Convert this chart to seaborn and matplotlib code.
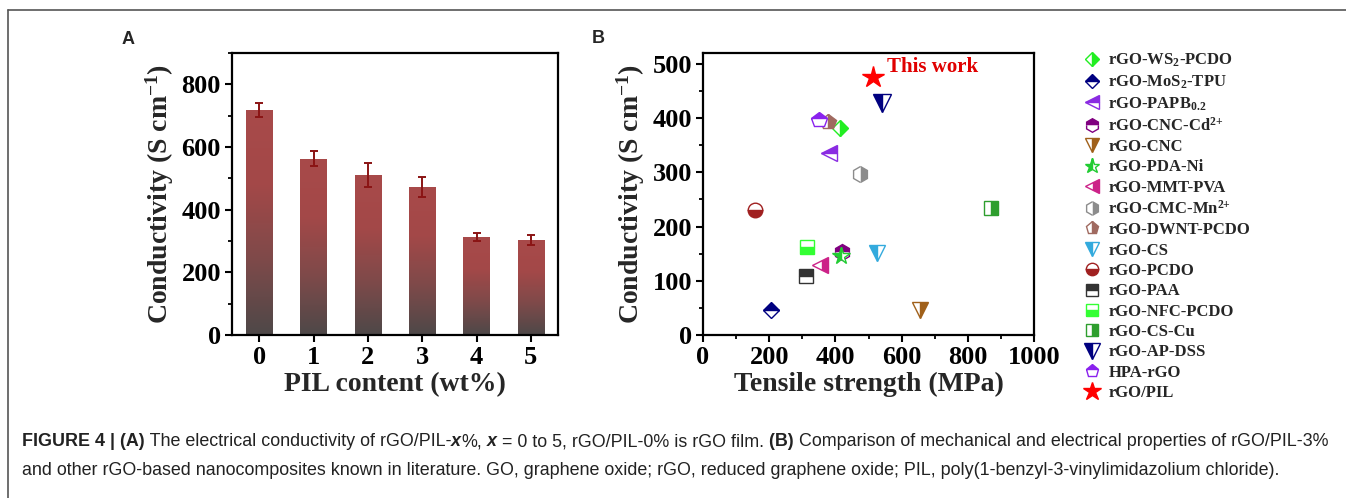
import numpy as np
import pandas as pd
import matplotlib
matplotlib.use("Agg")
import matplotlib.pyplot as plt
import seaborn as sns
from matplotlib.ticker import MultipleLocator
from matplotlib.colors import LinearSegmentedColormap

# ---- panel A: conductivity vs PIL content ----
pil_content = ["0", "1", "2", "3", "4", "5"]
conductivity = [717, 563, 510, 473, 313, 303]
conductivity_err = [22, 24, 39, 31, 14, 15]

# ---- panel B: literature comparison ----
materials = [r"rGO-WS$_{2}$-PCDO", r"rGO-MoS$_{2}$-TPU", r"rGO-PAPB$_{0.2}$",
             r"rGO-CNC-Cd$^{2{+}}$", "rGO-CNC", "rGO-PDA-Ni", "rGO-MMT-PVA",
             r"rGO-CMC-Mn$^{2{+}}$", "rGO-DWNT-PCDO", "rGO-CS", "rGO-PCDO",
             "rGO-PAA", "rGO-NFC-PCDO", "rGO-CS-Cu", "rGO-AP-DSS",
             "HPA-rGO", "rGO/PIL"]
tensile = [415, 205, 380, 419, 656, 418, 352, 475, 378, 527, 157, 310, 315, 869, 540, 350, 515]
cond_b = [382, 46, 335, 153, 47, 145, 130, 296, 392, 152, 231, 108, 162, 234, 428, 397, 475]
colors = ["#22ee22", "#000080", "#8a2be2", "#800080", "#a0601a", "#22cc33", "#cc2288",
          "#8c8c8c", "#a06a60", "#33aadd", "#a02020", "#333333", "#33ff33", "#2e9e2e",
          "#000080", "#8a22ee", "#ff0000"]
markers = ["D", "D", "<", "h", "v", "*", "<", "h", "p", "v", "o", "s", "s", "s", "v", "p", "*"]
fills = ["right", "top", "top", "top", "right", "left", "right", "right", "right", "left",
         "bottom", "top", "bottom", "right", "left", "top", "full"]
sizes = [8.5, 8.5, 12, 11.5, 12, 13, 12, 11.5, 11.5, 12, 10.5, 9.5, 9.5, 9.5, 13, 11.5, 16]

sns.set_theme(style="ticks")
plt.rcParams.update({
    "font.family": ["Liberation Serif", "DejaVu Serif"],
    "font.weight": "bold",
    "axes.labelweight": "bold",
    "mathtext.fontset": "custom",
    "mathtext.rm": "Liberation Serif:bold",
    "mathtext.bf": "Liberation Serif:bold",
    "mathtext.it": "Liberation Serif:italic:bold",
    "mathtext.default": "rm",
    "axes.linewidth": 1.6,
    "xtick.major.width": 1.5, "ytick.major.width": 1.5,
    "xtick.minor.width": 1.3, "ytick.minor.width": 1.3,
    "xtick.major.size": 5, "ytick.major.size": 5,
    "xtick.minor.size": 3, "ytick.minor.size": 3,
    "xtick.color": "black", "ytick.color": "black",
    "axes.edgecolor": "black",
})

W, H = 1346, 498
fig = plt.figure(figsize=(W / 100, H / 100), dpi=100)
axA = fig.add_axes([232 / W, 1 - 335 / H, 326 / W, 282 / H])
axB = fig.add_axes([703 / W, 1 - 335 / H, 331 / W, 282 / H])

# panel A bars with a red-to-gray gradient
dfA = pd.DataFrame({"PIL": pil_content, "cond": conductivity})
sns.barplot(data=dfA, x="PIL", y="cond", ax=axA, width=0.49, color="#a84a4a",
            edgecolor="none")
grad = LinearSegmentedColormap.from_list("g", ["#4e4848", "#7e4a4a", "#a34848", "#a84a4a"])
for p in axA.patches:
    x0, y0 = p.get_x(), p.get_y()
    w, h = p.get_width(), p.get_height()
    im = axA.imshow(np.linspace(0, 1, 200).reshape(-1, 1), cmap=grad, origin="lower",
                    extent=[x0, x0 + w, y0, y0 + h], aspect="auto", zorder=2)
    im.set_clip_path(p)
    p.set_facecolor("none")
axA.errorbar(range(len(pil_content)), conductivity, yerr=conductivity_err, fmt="none",
             ecolor="#8b1414", elinewidth=1.4, capsize=3, capthick=1.4, zorder=3)
axA.set_xlim(-0.5, 5.5)
axA.set_ylim(0, 900)
axA.yaxis.set_major_locator(MultipleLocator(200))
axA.yaxis.set_minor_locator(MultipleLocator(100))
axA.set_xlabel("PIL content (wt%)", fontsize=20, labelpad=2)
axA.set_ylabel(r"Conductivity (S cm$^{-1}$)", fontsize=20, labelpad=4)
axA.tick_params(labelsize=19, pad=3)
for s in axA.spines.values():
    s.set_visible(True)

# panel B scatter with half-filled markers
for name, x, y, c, m, f, ms in zip(materials, tensile, cond_b, colors, markers, fills, sizes):
    axB.plot([x], [y], linestyle="none", marker=m, markersize=ms, fillstyle=f,
             color=c, markerfacecoloralt="white", markeredgecolor=c,
             markeredgewidth=1.0, label=name)
axB.text(555, 494, "This work", color="#e00000", fontsize=15, fontweight="bold",
         ha="left", va="center")
axB.set_xlim(0, 1000)
axB.set_ylim(0, 520)
axB.xaxis.set_major_locator(MultipleLocator(200))
axB.xaxis.set_minor_locator(MultipleLocator(100))
axB.yaxis.set_major_locator(MultipleLocator(100))
axB.yaxis.set_minor_locator(MultipleLocator(50))
axB.set_xlabel("Tensile strength (MPa)", fontsize=20, labelpad=2)
axB.set_ylabel(r"Conductivity (S cm$^{-1}$)", fontsize=20, labelpad=4)
axB.tick_params(labelsize=19, pad=3)
for s in axB.spines.values():
    s.set_visible(True)
axB.legend(loc="upper left", bbox_to_anchor=(1075 / W, 1 - 45 / H),
           bbox_transform=fig.transFigure, frameon=False, fontsize=12,
           handletextpad=0.4, labelspacing=0.26, borderaxespad=0, numpoints=1,
           handlelength=1.2, markerscale=0.85)

# panel letters
fig.text(128 / W, 1 - 40 / H, "A", family="Liberation Sans", fontweight="bold",
         fontsize=13, ha="center", va="center")
fig.text(598 / W, 1 - 38 / H, "B", family="Liberation Sans", fontweight="bold",
         fontsize=13, ha="center", va="center")

# page frame
fig.add_artist(plt.Line2D([8 / W, 1], [1 - 10 / H, 1 - 10 / H], color="#555555", lw=1.2))
fig.add_artist(plt.Line2D([8 / W, 8 / W], [0, 1 - 10 / H], color="#555555", lw=1.2))

# caption
renderer = fig.canvas.get_renderer()
cap_font = dict(family="Liberation Sans", fontsize=12.9, color="#222222", va="baseline")
line1 = [("FIGURE 4 | (A)", "bold", "normal"),
         (" The electrical conductivity of rGO/PIL-", "normal", "normal"),
         ("x", "bold", "italic"), ("%,", "normal", "normal"),
         (" x", "bold", "italic"),
         (" = 0 to 5, rGO/PIL-0% is rGO film.", "normal", "normal"),
         (" (B)", "bold", "normal"),
         (" Comparison of mechanical and electrical properties of rGO/PIL-3%", "normal", "normal")]
line2 = [("and other rGO-based nanocomposites known in literature. GO, graphene oxide; "
          "rGO, reduced graphene oxide; PIL, poly(1-benzyl-3-vinylimidazolium chloride).",
          "normal", "normal")]
for pieces, ybase in [(line1, 446), (line2, 475)]:
    x = 22 / W
    for s, wt, st in pieces:
        t = fig.text(x, 1 - ybase / H, s, fontweight=wt, fontstyle=st, **cap_font)
        x += t.get_window_extent(renderer).width / W

fig.savefig("out.png", dpi=100)
